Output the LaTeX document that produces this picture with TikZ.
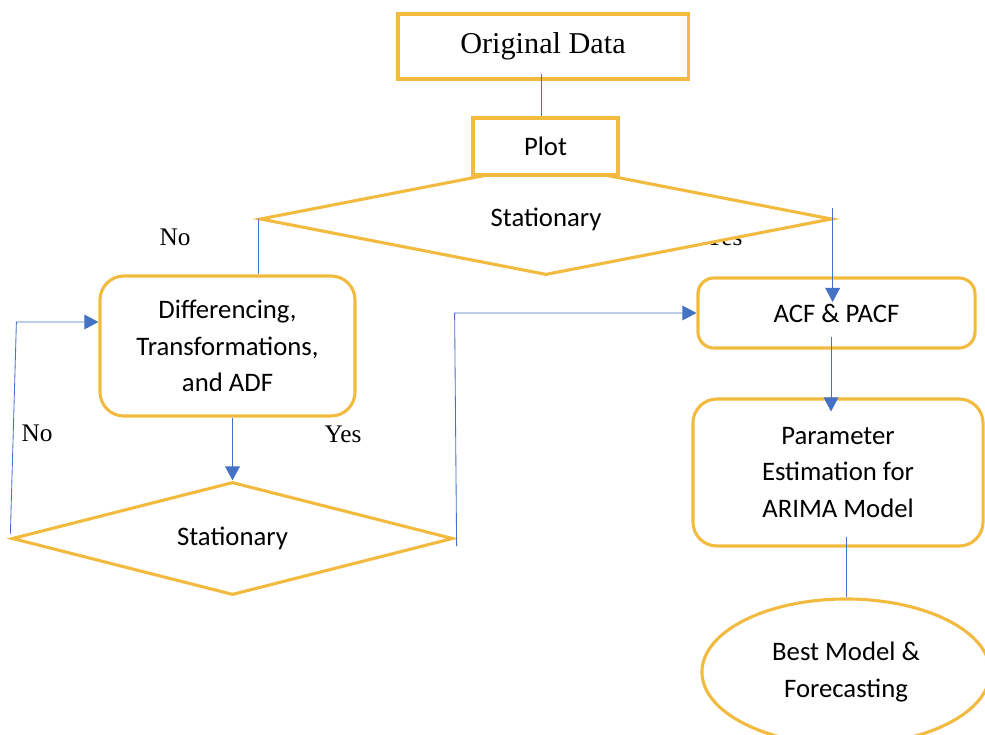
\documentclass[tikz,border=0pt]{standalone}
\usepackage{fontspec}
\setmainfont{Liberation Serif}
\newfontfamily\calib{Carlito}
\usepackage{xcolor}
\usepackage{tikz}
\usetikzlibrary{shapes.geometric,arrows.meta,calc}

\definecolor{gold}{RGB}{242,186,62}
\definecolor{wordblue}{RGB}{68,114,196}

\begin{document}
\begin{tikzpicture}[x=0.025cm,y=-0.025cm,
    box/.style={draw=gold,line width=2.2pt,fill=white,inner sep=0pt,align=center},
    sans/.style={font=\calib\fontsize{19}{26}\selectfont},
    link/.style={draw=wordblue,line width=0.6pt},
    arrow/.style={link,-{Triangle[length=10pt,width=10.5pt]},wordblue},
    answer/.style={font=\fontsize{18}{20}\selectfont}]
    \useasboundingbox (0,0) rectangle (985,735);

    % labels on the branches
    \node[answer,anchor=base] (yestop) at (724,245) {Yes};
    \node[answer] (notop) at (175,237) {No};
    \node[answer] (noloop) at (37,433) {No};
    \node[answer] (yesloop) at (343,434) {Yes};

    % the boxes
    \node[box,minimum width=7.25cm,minimum height=1.625cm,font=\fontsize{21.5}{24}\selectfont]
        (orig) at (543,46.5) {Original Data};
    \node[box,sans,diamond,shape aspect=6,minimum width=14.3cm,minimum height=2.8cm]
        (stat1) at (546,219) {Stationary};
    \node[box,sans,minimum width=3.625cm,minimum height=1.425cm]
        (plot) at (545.5,146.5) {Plot};
    \node[box,sans,rounded corners=0.6cm,minimum width=6.375cm,minimum height=3.5cm]
        (diff) at (227.5,346) {Differencing,\\Transformations,\\and ADF};
    \node[box,sans,diamond,shape aspect=4,minimum width=11.025cm,minimum height=2.825cm]
        (stat2) at (232.5,538.5) {Stationary};
    \node[box,sans,rounded corners=0.4cm,minimum width=6.925cm,minimum height=1.75cm]
        (acf) at (836.5,313) {ACF \& PACF};
    \node[box,sans,rounded corners=0.6cm,minimum width=7.25cm,minimum height=3.675cm]
        (param) at (838,472.5) {Parameter\\Estimation for\\ARIMA Model};
    \node[box,sans,ellipse,minimum width=7.2cm,minimum height=3.65cm]
        (best) at (846,672) {Best Model \&\\Forecasting};

    % connectors
    \coordinate (loopin) at ([yshift=0.6cm]diff.west);
    \draw[link] ($(orig.south)+(-2,-7)$) -- ($(orig.south |- plot.north)+(-2,0)$);
    \draw[link] (stat1.west) -- (stat1.west |- diff.north);
    \draw[arrow] ($(stat1.east)+(-1,-11)$) -- ($(stat1.east |- acf.center)+(-1,-11)$);
    \draw[arrow] (stat2.north |- diff.south) -- (stat2.north);
    \draw[arrow] ([yshift=0.125cm]stat2.west) -- ([xshift=0.15cm]stat2.west |- loopin) -- (loopin);
    \draw[arrow] ($(stat2.east)+(2,7.5)$) -- (stat2.east |- acf.west) -- (acf.west);
    \draw[arrow] ($(acf.south)+(-5.5,-13)$) -- ($(param.north)+(-7,14)$);
    \draw[link] ($(best.north |- param.south)+(0,-11)$) -- (best.north);
\end{tikzpicture}
\end{document}
